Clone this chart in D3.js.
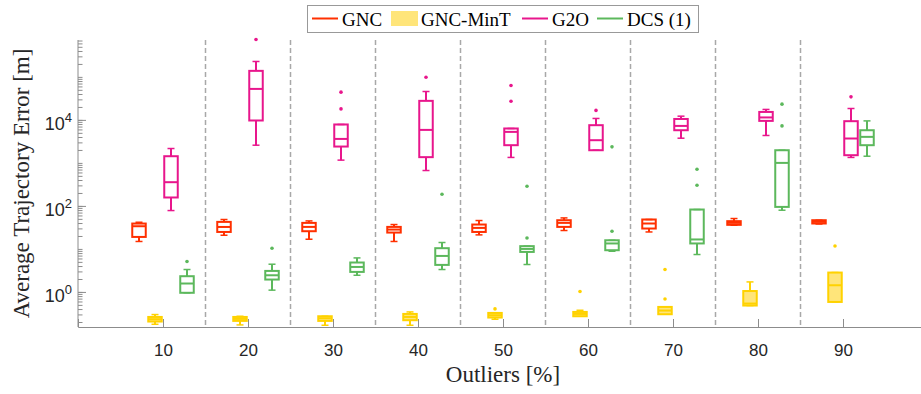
<!DOCTYPE html>
<html>
<head>
<meta charset="utf-8">
<script src="https://cdn.jsdelivr.net/npm/d3@7"></script>
<style>
body { margin: 0; background: #fff; }
</style>
</head>
<body>
<div id="chart-area"></div>
<script>
// outlier ratio categories
const outlierPct = ["10", "20", "30", "40", "50", "60", "70", "80", "90"]

// box stats per category: [lower whisker, q1, median, q3, upper whisker]
const gncBoxes = [
  [14.9, 19.0, 33.7, 38.9, 41.7], [20.8, 24.8, 32.4, 42.5, 48.3], [16.8, 25.8, 32.5, 40.3, 44.8],
  [14.9, 24.0, 28.2, 32.5, 36.9], [21.2, 24.8, 30.8, 36.9, 45.7], [26.8, 32.5, 40.3, 46.5, 52.6],
  [24.8, 29.8, 39.0, 48.3, 48.3], [35.5, 36.3, 40.3, 44.2, 50.9], [38.0, 39.0, 42.5, 46.5, 46.5]
]
const gncOutliers = [[], [], [], [], [], [], [], [], []]

const minTBoxes = [
  [0.177, 0.205, 0.232, 0.262, 0.298], [0.171, 0.212, 0.236, 0.262, 0.272], [0.168, 0.212, 0.244, 0.272, 0.272],
  [0.168, 0.220, 0.262, 0.308, 0.343], [0.232, 0.254, 0.287, 0.325, 0.325], [0.272, 0.272, 0.308, 0.343, 0.375],
  [0.303, 0.303, 0.369, 0.448, 0.448], [0.483, 0.483, 0.537, 1.05, 1.71], [0.585, 0.585, 1.43, 2.82, 2.82]
]
const minTOutliers = [[], [], [], [], [0.403], [1.02], [0.687, 3.32], [], [11.7]]

const g2oBoxes = [
  [78, 157, 356, 1430, 2160], [2580, 9680, 52500, 138000, 228000], [1160, 2400, 3610, 7820, 7820],
  [665, 1360, 5850, 27700, 45700], [1340, 2580, 5260, 6310, 6310], [1970, 1970, 3370, 7530, 10800],
  [3750, 5750, 7240, 10500, 12200], [4340, 9480, 11400, 15300, 17500], [1340, 1510, 3690, 9330, 18400]
]
const g2oOutliers = [[], [741000], [18000, 44100], [98400], [27200, 63100], [16600], [], [], [34300]]

const dcsBoxes = [
  [0.955, 0.955, 1.57, 2.32, 3.32], [1.10, 1.94, 2.44, 3.08, 4.41], [2.44, 2.92, 3.81, 4.83, 6.18],
  [3.32, 4.25, 6.87, 10.4, 14.1], [4.34, 8.51, 10.0, 11.6, 11.6], [8.83, 9.33, 13.4, 15.9, 15.9],
  [7.41, 13.4, 16.6, 82.4, 82.4], [79.4, 94.8, 1000, 1970, 1970], [1430, 2580, 4030, 5750, 9480]
]
const dcsOutliers = [[5.09], [10.4], [], [187], [18.0, 287], [25.8, 2360], [303, 713], [7240, 23200], []]

const seriesNames = ["GNC", "GNC-MinT", "G2O", "DCS (1)"]
const seriesColors = ["#ff3000", "#ffd200", "#e8168c", "#5cb85c"]
const seriesFills = ["none", "#ffe57a", "none", "none"]

const series = seriesNames.map((name, k) => ({
  name,
  color: seriesColors[k],
  fill: seriesFills[k],
  boxes: [gncBoxes, minTBoxes, g2oBoxes, dcsBoxes][k],
  outliers: [gncOutliers, minTOutliers, g2oOutliers, dcsOutliers][k]
}))

const W = 921, H = 394
const LEFT = 78, TOP = 40, BOTTOM = 327
const svg = d3.select("#chart-area").append("svg")
  .attr("width", W)
  .attr("height", H)

// scales
const x = d3.scaleLinear().domain([0, outlierPct.length + 1]).range([LEFT, LEFT + 85 * (outlierPct.length + 1)])
const y = d3.scaleLog().domain([0.153, 7.2e5]).range([BOTTOM, TOP])

// dashed separators between groups
svg.append("g").selectAll("line")
  .data(d3.range(1, outlierPct.length))
  .join("line")
  .attr("x1", d => x(d + 0.5))
  .attr("x2", d => x(d + 0.5))
  .attr("y1", TOP)
  .attr("y2", BOTTOM)
  .attr("stroke", "#a8a8a8")
  .attr("stroke-width", 1.5)
  .attr("stroke-dasharray", "5,3")

// axes
const axisColor = "#8c8c8c"
const minorTicks = []
for (let e = -1; e <= 5; e++) {
  for (let m = 1; m <= 9; m++) {
    const v = m * Math.pow(10, e)
    if (v >= 0.153 && v <= 7.2e5) minorTicks.push(v)
  }
}
const majorTicks = [1, 100, 10000]

const yMinor = svg.append("g")
  .attr("transform", `translate(${LEFT},0)`)
  .call(d3.axisLeft(y).tickValues(minorTicks).tickSize(-4.5).tickFormat(""))
yMinor.select(".domain").remove()
yMinor.selectAll("line").attr("stroke", axisColor)

const yMajor = svg.append("g")
  .attr("transform", `translate(${LEFT},0)`)
  .call(d3.axisLeft(y).tickValues(majorTicks).tickSize(-8).tickFormat(""))
yMajor.select(".domain").remove()
yMajor.selectAll("line").attr("stroke", axisColor)

const yLabels = svg.append("g")
  .attr("font-family", "Liberation Sans, Arial, sans-serif")
  .attr("fill", "#262626")
majorTicks.forEach(v => {
  const t = yLabels.append("text")
    .attr("x", LEFT - 6)
    .attr("y", y(v) + 10)
    .attr("text-anchor", "end")
    .attr("font-size", 18)
  t.append("tspan").text("10")
  t.append("tspan").attr("dy", -8).attr("font-size", 13).text(Math.round(Math.log10(v)))
})

const xAxis = svg.append("g")
  .attr("transform", `translate(0,${BOTTOM})`)
  .call(d3.axisBottom(x)
    .tickValues(d3.range(1, outlierPct.length + 1))
    .tickSize(-8)
    .tickPadding(17)
    .tickFormat(d => outlierPct[d - 1]))
xAxis.select(".domain").attr("stroke", axisColor)
xAxis.selectAll("line").attr("stroke", axisColor)
xAxis.selectAll("text")
  .attr("font-family", "Liberation Sans, Arial, sans-serif")
  .attr("font-size", 17)
  .attr("fill", "#262626")

svg.append("line")
  .attr("x1", LEFT).attr("x2", LEFT)
  .attr("y1", TOP).attr("y2", BOTTOM)
  .attr("stroke", axisColor)

// boxes
const boxW = 13.5, capW = 7, step = 16
series.forEach((s, k) => {
  const off = (k - 1.5) * step
  const g = svg.append("g").attr("class", "series")
  s.boxes.forEach((b, i) => {
    const cx = x(i + 1) + off
    const [lo, q1, med, q3, hi] = b
    // whiskers
    g.append("line").attr("x1", cx).attr("x2", cx).attr("y1", y(hi)).attr("y2", y(q3))
      .attr("stroke", s.color).attr("stroke-width", 2)
    g.append("line").attr("x1", cx).attr("x2", cx).attr("y1", y(q1)).attr("y2", y(lo))
      .attr("stroke", s.color).attr("stroke-width", 2)
    ;[lo, hi].forEach(v => {
      g.append("line").attr("x1", cx - capW / 2).attr("x2", cx + capW / 2)
        .attr("y1", y(v)).attr("y2", y(v))
        .attr("stroke", s.color).attr("stroke-width", 1.5)
    })
    // box
    g.append("rect")
      .attr("x", cx - boxW / 2)
      .attr("y", y(q3))
      .attr("width", boxW)
      .attr("height", Math.max(0.5, y(q1) - y(q3)))
      .attr("fill", s.fill)
      .attr("stroke", s.color)
      .attr("stroke-width", 2)
    // median
    g.append("line").attr("x1", cx - boxW / 2).attr("x2", cx + boxW / 2)
      .attr("y1", y(med)).attr("y2", y(med))
      .attr("stroke", s.color).attr("stroke-width", 2)
    // outliers
    s.outliers[i].forEach(v => {
      g.append("circle").attr("cx", cx).attr("cy", y(v)).attr("r", 1.8).attr("fill", s.color)
    })
  })
})

// axis titles
svg.append("text")
  .attr("x", x(5))
  .attr("y", 382)
  .attr("text-anchor", "middle")
  .attr("font-family", "Liberation Serif, Times New Roman, serif")
  .attr("font-size", 23)
  .attr("fill", "#262626")
  .text("Outliers [%]")

svg.append("text")
  .attr("transform", `translate(29,${(TOP + BOTTOM) / 2}) rotate(-90)`)
  .attr("text-anchor", "middle")
  .attr("font-family", "Liberation Serif, Times New Roman, serif")
  .attr("font-size", 23)
  .attr("fill", "#262626")
  .text("Average Trajectory Error [m]")

// legend
const legend = svg.append("g")
legend.append("rect")
  .attr("x", 307.5).attr("y", 5.5).attr("width", 391).attr("height", 27)
  .attr("fill", "#fff").attr("stroke", "#999")
const legendX = [312, 391, 522, 597]
series.forEach((s, k) => {
  const lx = legendX[k]
  if (k === 1) {
    legend.append("rect").attr("x", lx).attr("y", 11).attr("width", 27).attr("height", 15)
      .attr("fill", s.fill)
  } else {
    legend.append("line").attr("x1", lx).attr("x2", lx + 26).attr("y1", 18.5).attr("y2", 18.5)
      .attr("stroke", s.color).attr("stroke-width", 2)
  }
  legend.append("text")
    .attr("x", lx + 30)
    .attr("y", 25.5)
    .attr("font-family", "Liberation Serif, Times New Roman, serif")
    .attr("font-size", 19)
    .attr("fill", "#000")
    .text(s.name)
})
</script>
</body>
</html>
